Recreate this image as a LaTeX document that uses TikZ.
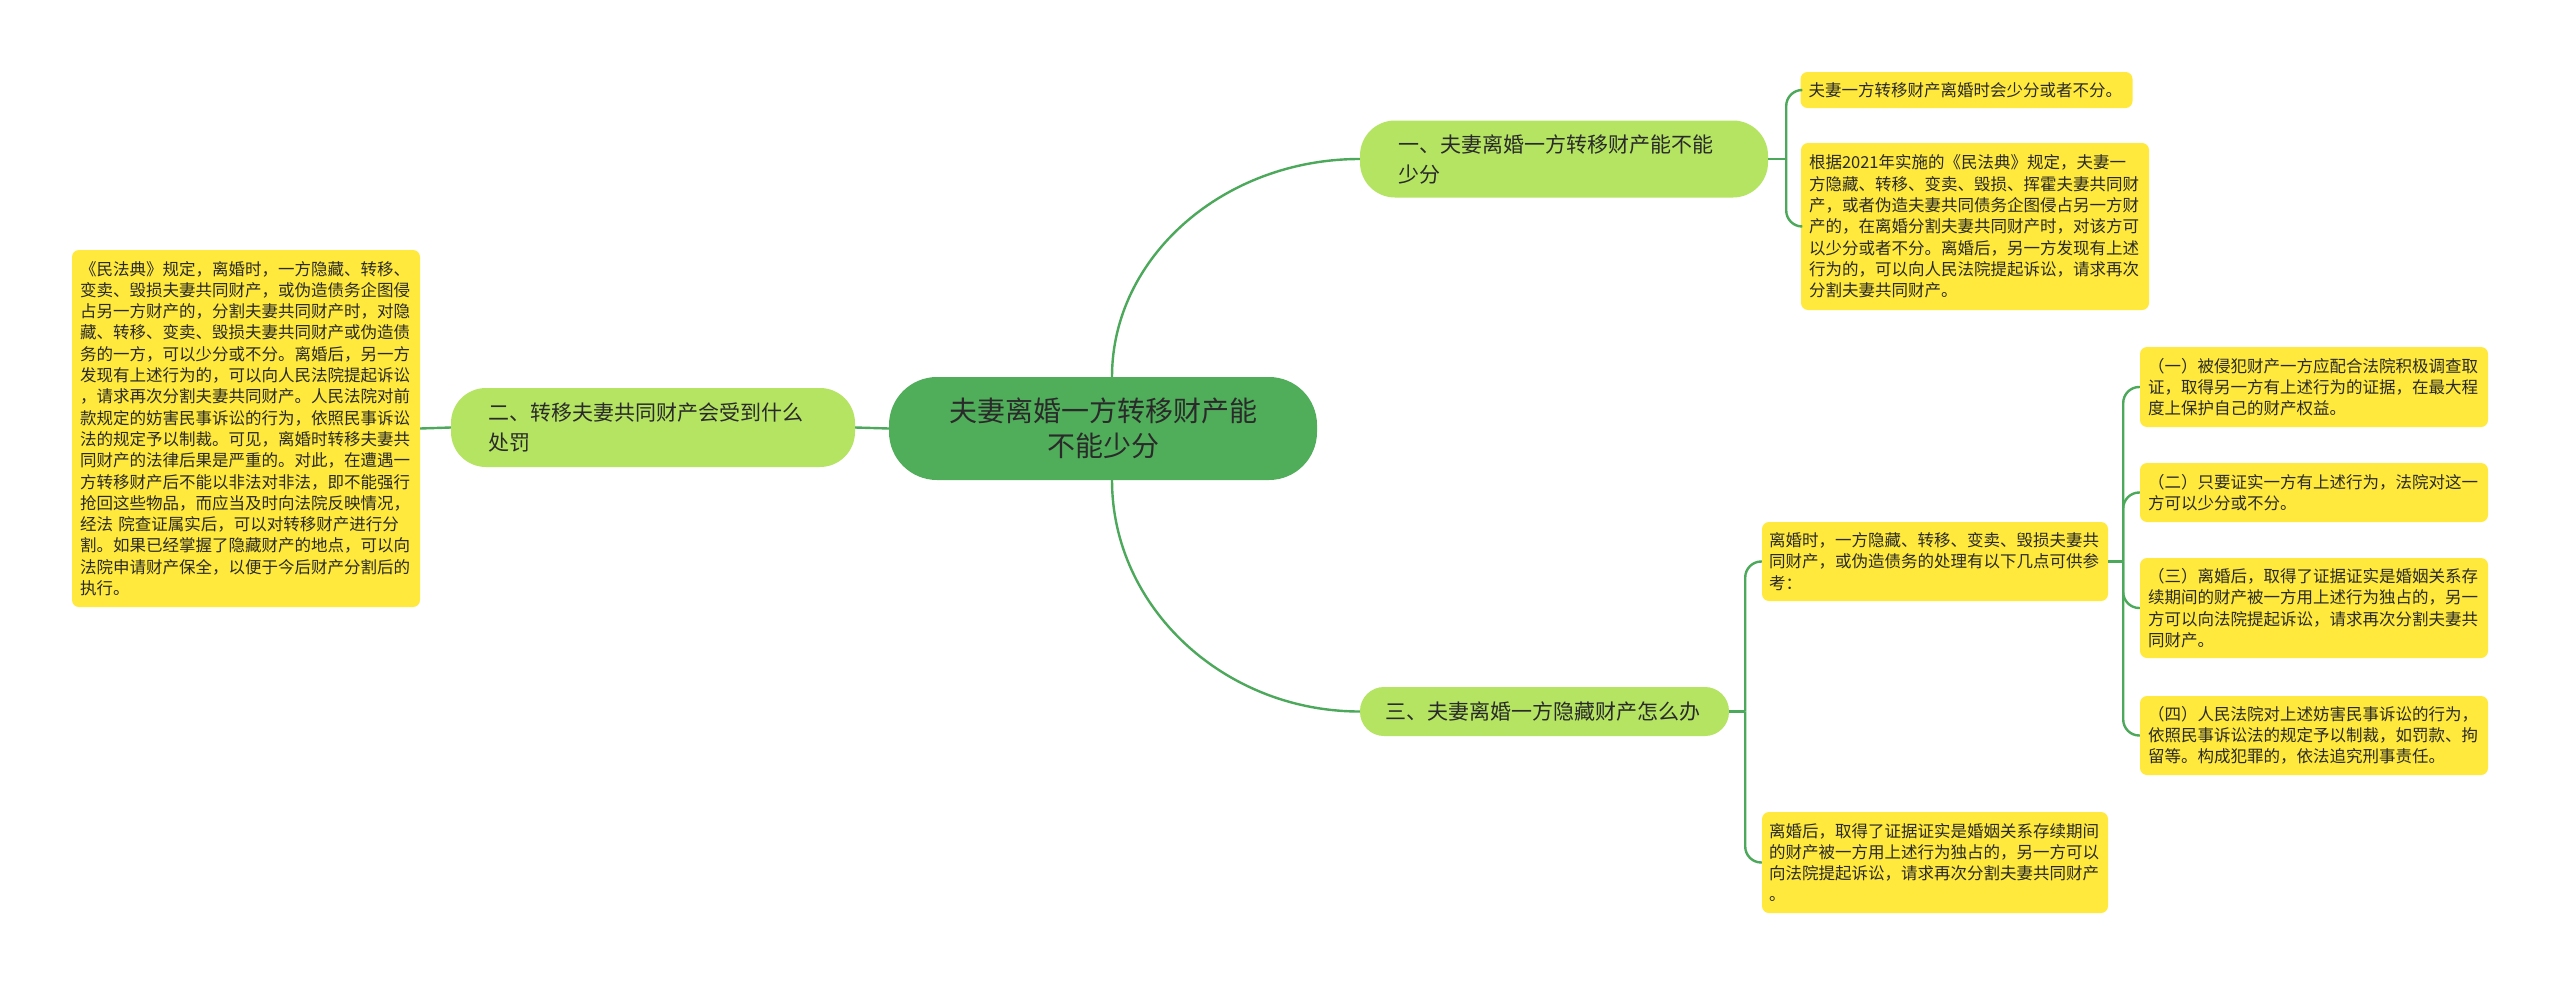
\documentclass[tikz,border=0pt]{standalone}
\usepackage{fontspec}
\newfontfamily\cjk{Noto Sans CJK SC}
\definecolor{cgreen}{HTML}{50AE5A}
\definecolor{cline}{HTML}{4CA85B}
\definecolor{lime}{HTML}{B4E462}
\definecolor{leafy}{HTML}{FFE93D}
\definecolor{txt}{HTML}{2A2A2A}
\tikzset{
  leaf/.style={fill=leafy, rounded corners=7pt, align=left, inner xsep=8pt, inner ysep=0pt,
    text=txt, font={\cjk\fontsize{16.5}{21.3}\selectfont}},
  topic/.style={fill=lime, align=left, inner ysep=0pt, text=txt,
    font={\cjk\fontsize{21}{30}\selectfont}},
  root/.style={fill=cgreen, rounded corners=48pt, align=center, inner ysep=0pt, text=txt,
    font={\cjk\fontsize{28}{35}\selectfont}},
  link/.style={draw=cline, line width=2.4pt},
  brace/.style={draw=cline, line width=2.4pt, rounded corners=16pt}
}
\begin{document}
\begin{tikzpicture}[x=1pt, y=-1pt]
\useasboundingbox[fill=white] (0,0) rectangle (2560,985);

% root
\node[root, inner xsep=40pt, text width=348pt, minimum height=103pt] (c) at (1103,428.5)
  {夫妻离婚一方转移财产能\\不能少分};

% topics
\node[topic, rounded corners=35pt, inner xsep=38pt, text width=332pt, minimum height=77pt] (n1) at (1564,159)
  {一、夫妻离婚一方转移财产能不能\\少分};
\node[topic, rounded corners=35pt, inner xsep=37pt, text width=330pt, minimum height=79pt] (n2) at (653,427.5)
  {二、转移夫妻共同财产会受到什么\\处罚};
\node[topic, rounded corners=24pt, inner xsep=25pt, text width=319pt, minimum height=49pt] (n3) at (1544.5,711.5)
  {三、夫妻离婚一方隐藏财产怎么办};

% leaves
\node[leaf, text width=332pt, minimum height=357pt] (lb) at (246,428.5)
  {《民法典》规定，离婚时，一方隐藏、转移、\\
   变卖、毁损夫妻共同财产，或伪造债务企图侵\\
   占另一方财产的，分割夫妻共同财产时，对隐\\
   藏、转移、变卖、毁损夫妻共同财产或伪造债\\
   务的一方，可以少分或不分。离婚后，另一方\\
   发现有上述行为的，可以向人民法院提起诉讼\\
   ，请求再次分割夫妻共同财产。人民法院对前\\
   款规定的妨害民事诉讼的行为，依照民事诉讼\\
   法的规定予以制裁。可见，离婚时转移夫妻共\\
   同财产的法律后果是严重的。对此，在遭遇一\\
   方转移财产后不能以非法对非法，即不能强行\\
   抢回这些物品，而应当及时向法院反映情况，\\
   经法 院查证属实后，可以对转移财产进行分\\
   割。如果已经掌握了隐藏财产的地点，可以向\\
   法院申请财产保全，以便于今后财产分割后的\\
   执行。};

\node[leaf, text width=316pt, minimum height=36pt] (l1) at (1966.5,90)
  {夫妻一方转移财产离婚时会少分或者不分。};
\node[leaf, text width=332pt, minimum height=167pt] (l2) at (1975,226.5)
  {根据2021年实施的《民法典》规定，夫妻一\\
   方隐藏、转移、变卖、毁损、挥霍夫妻共同财\\
   产，或者伪造夫妻共同债务企图侵占另一方财\\
   产的，在离婚分割夫妻共同财产时，对该方可\\
   以少分或者不分。离婚后，另一方发现有上述\\
   行为的，可以向人民法院提起诉讼，请求再次\\
   分割夫妻共同财产。};

\node[leaf, inner xsep=7pt, text width=332pt, minimum height=79pt] (rm) at (1935,561.5)
  {离婚时，一方隐藏、转移、变卖、毁损夫妻共\\
   同财产，或伪造债务的处理有以下几点可供参\\
   考：};
\node[leaf, inner xsep=7pt, text width=332pt, minimum height=101pt] (rb) at (1935,862.5)
  {离婚后，取得了证据证实是婚姻关系存续期间\\
   的财产被一方用上述行为独占的，另一方可以\\
   向法院提起诉讼，请求再次分割夫妻共同财产\\
   。};

\node[leaf, text width=332pt, minimum height=80pt] (s1) at (2314,387)
  {（一）被侵犯财产一方应配合法院积极调查取\\
   证，取得另一方有上述行为的证据，在最大程\\
   度上保护自己的财产权益。};
\node[leaf, text width=332pt, minimum height=59pt] (s2) at (2314,492.5)
  {（二）只要证实一方有上述行为，法院对这一\\
   方可以少分或不分。};
\node[leaf, text width=332pt, minimum height=100pt] (s3) at (2314,608)
  {（三）离婚后，取得了证据证实是婚姻关系存\\
   续期间的财产被一方用上述行为独占的，另一\\
   方可以向法院提起诉讼，请求再次分割夫妻共\\
   同财产。};
\node[leaf, text width=332pt, minimum height=79pt] (s4) at (2314,735.5)
  {（四）人民法院对上述妨害民事诉讼的行为，\\
   依照民事诉讼法的规定予以制裁，如罚款、拘\\
   留等。构成犯罪的，依法追究刑事责任。};

% connectors from root
\coordinate (ct) at ([xshift=9pt]c.north);
\coordinate (cb) at ([xshift=9pt]c.south);
\begin{scope}[on background layer/.style={}]
\draw[link] (ct) .. controls ([yshift=120pt]ct) and ([xshift=-136pt]n1.west) .. (n1.west);
\draw[link] (cb) .. controls ([yshift=-127pt]cb) and ([xshift=-136pt]n3.west) .. (n3.west);
\draw[link] (c.west) -- (n2.east);
\draw[link] (n2.west) -- (lb.east);
\end{scope}

% bracket for topic 1
\coordinate (j1) at ([xshift=18pt]n1.east);
\draw[link] (n1.east) -- (j1);
\draw[brace] (j1) |- (l1.west);
\draw[brace] (j1) |- (l2.west);

% bracket for topic 3
\coordinate (j3) at ([xshift=16pt]n3.east);
\draw[link] (n3.east) -- (j3);
\draw[brace] (j3) |- (rm.west);
\draw[brace] (j3) |- (rb.west);

% bracket for middle leaf
\coordinate (jm) at ([xshift=15pt]rm.east);
\draw[link] (rm.east) -- (jm);
\draw[brace] (jm) |- (s1.west);
\draw[brace] (jm) |- (s2.west);
\draw[brace] (jm) |- (s3.west);
\draw[brace] (jm) |- (s4.west);
\end{tikzpicture}
\end{document}
